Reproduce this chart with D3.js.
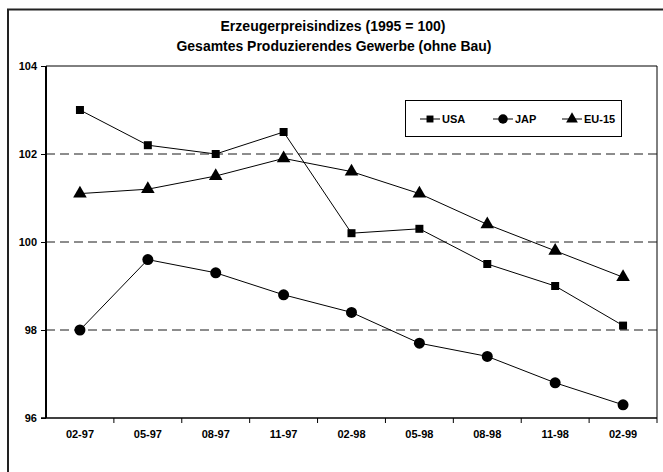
<!DOCTYPE html>
<html>
<head>
<meta charset="utf-8">
<style>
  body { margin: 0; background: #fff; }
  text { font-family: "Liberation Sans", Arial, sans-serif; font-weight: bold; fill: #000; }
</style>
</head>
<body>
<svg width="663" height="472"></svg>
<script src="https://d3js.org/d3.v7.min.js"></script>
<script>
var months = ["02-97", "05-97", "08-97", "11-97", "02-98", "05-98", "08-98", "11-98", "02-99"];
var usa = [103.0, 102.2, 102.0, 102.5, 100.2, 100.3, 99.5, 99.0, 98.1];
var jap = [98.0, 99.6, 99.3, 98.8, 98.4, 97.7, 97.4, 96.8, 96.3];
var eu15 = [101.1, 101.2, 101.5, 101.9, 101.6, 101.1, 100.4, 99.8, 99.2];
var yTicks = [96, 98, 100, 102, 104];
var gridVals = [98, 100, 102];

var series = [
  {name: "USA", values: usa, symbol: d3.symbolSquare, size: 64},
  {name: "JAP", values: jap, symbol: d3.symbolCircle, size: 95},
  {name: "EU-15", values: eu15, symbol: d3.symbolTriangle, size: 80}
];

var svg = d3.select("svg");
var pLeft = 46, pRight = 657, pTop = 66, pBottom = 418;

// outer frame
svg.append("path")
  .attr("d", "M8,480 V9.5 H670")
  .attr("fill", "none")
  .attr("stroke", "#222")
  .attr("stroke-width", 2);

var x = d3.scaleBand().domain(months).range([pLeft, pRight]).padding(0);
var y = d3.scaleLinear().domain([96, 104]).range([pBottom, pTop]);

// title
svg.append("text").attr("x", 333).attr("y", 31).attr("text-anchor", "middle")
  .attr("textLength", 225).attr("lengthAdjust", "spacingAndGlyphs")
  .style("font-size", "14.5px").text("Erzeugerpreisindizes (1995 = 100)");
svg.append("text").attr("x", 334).attr("y", 51).attr("text-anchor", "middle")
  .attr("textLength", 315).attr("lengthAdjust", "spacingAndGlyphs")
  .style("font-size", "14.5px").text("Gesamtes Produzierendes Gewerbe (ohne Bau)");

// plot frame
svg.append("path")
  .attr("d", "M" + pLeft + "," + pTop + " H" + pRight + " V" + pBottom)
  .attr("fill", "none").attr("stroke", "#000").attr("stroke-width", 1);

// gridlines
svg.selectAll(".grid").data(gridVals).enter().append("line")
  .attr("x1", pLeft).attr("x2", pRight)
  .attr("y1", function(d) { return y(d); }).attr("y2", function(d) { return y(d); })
  .attr("stroke", "#1a1a1a").attr("stroke-dasharray", "9,5");

// y axis
var yAxis = svg.append("g").attr("transform", "translate(" + pLeft + ",0)")
  .call(d3.axisLeft(y).tickValues(yTicks).tickSize(5).tickPadding(4));
yAxis.select(".domain").attr("stroke-width", 2).attr("d", "M0," + pTop + "V" + pBottom);
yAxis.selectAll("text").style("font-size", "11px");

// x axis
var xAxis = svg.append("g").attr("transform", "translate(0," + pBottom + ")")
  .call(d3.axisBottom(x).tickSize(0).tickPadding(12));
xAxis.select(".domain").attr("stroke-width", 1.5).attr("d", "M" + (pLeft - 5) + ",0H" + pRight);
xAxis.selectAll("text").style("font-size", "11px");
xAxis.selectAll(".sep").data(months).enter().append("line")
  .attr("x1", function(d, i) { return pLeft + x.bandwidth() * (i + 1); })
  .attr("x2", function(d, i) { return pLeft + x.bandwidth() * (i + 1); })
  .attr("y1", 0).attr("y2", 5).attr("stroke", "#000");

var line = d3.line()
  .x(function(d, i) { return x(months[i]) + x.bandwidth() / 2; })
  .y(function(d) { return y(d); });

series.forEach(function(s) {
  svg.append("path").datum(s.values)
    .attr("d", line).attr("fill", "none").attr("stroke", "#000").attr("stroke-width", 1);
  svg.selectAll(null).data(s.values).enter().append("path")
    .attr("d", d3.symbol().type(s.symbol).size(s.size))
    .attr("transform", function(d, i) {
      return "translate(" + (x(months[i]) + x.bandwidth() / 2) + "," + y(d) + ")";
    })
    .attr("fill", "#000");
});

// legend
var lg = svg.append("g");
lg.append("rect").attr("x", 405.5).attr("y", 100.5).attr("width", 216).attr("height", 36)
  .attr("fill", "#fff").attr("stroke", "#000");
var lx = [430, 503, 572];
series.forEach(function(s, i) {
  lg.append("line").attr("x1", lx[i] - 10).attr("x2", lx[i] + 10)
    .attr("y1", 119).attr("y2", 119).attr("stroke", "#000");
  lg.append("path").attr("d", d3.symbol().type(s.symbol).size(s.size * 0.75))
    .attr("transform", "translate(" + lx[i] + ",119)").attr("fill", "#000");
  lg.append("text").attr("x", lx[i] + 12).attr("y", 123).style("font-size", "11px").text(s.name);
});
</script>
</body>
</html>
